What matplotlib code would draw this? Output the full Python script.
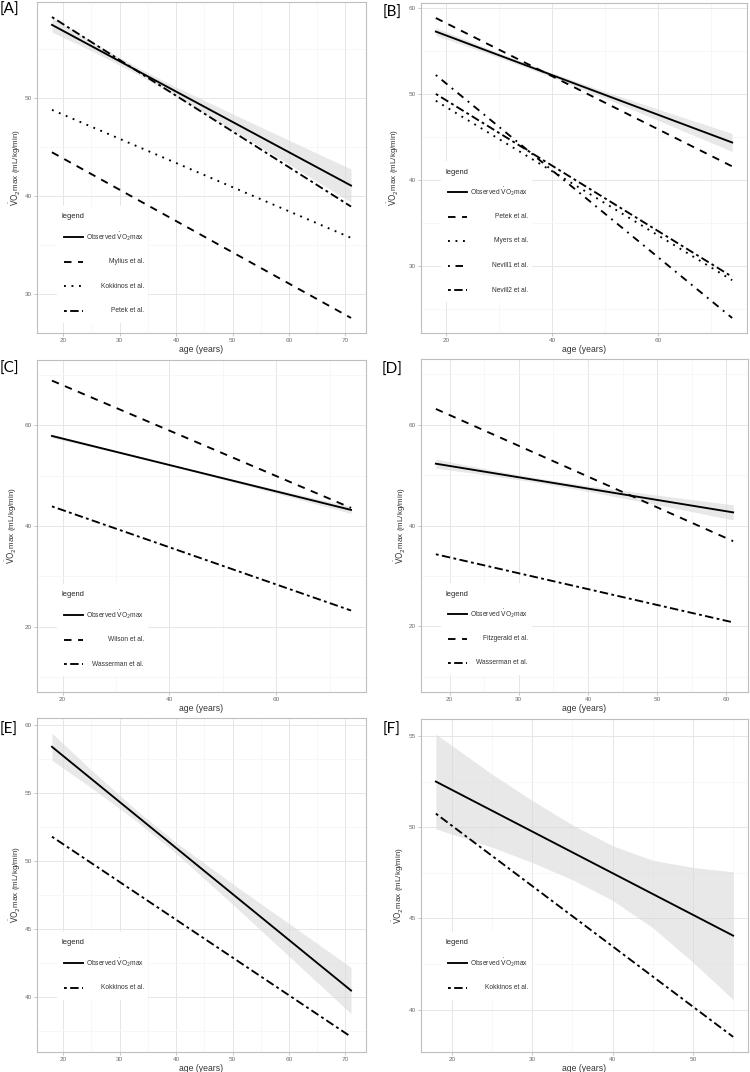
import matplotlib
matplotlib.use('Agg')
import matplotlib.pyplot as plt
import matplotlib.transforms as mtransforms
from matplotlib.lines import Line2D
from matplotlib.patches import Rectangle

plt.rcParams['font.family'] = ['Liberation Sans', 'DejaVu Sans']
plt.rcParams['mathtext.fontset'] = 'dejavusans'

VO2 = r'$\dot{\mathrm{V}}\mathrm{O}_2$max'
OBS_LABEL = 'Observed ' + VO2
YLABEL = VO2 + ' (mL/kg/min)'
XLABEL = 'age (years)'

# ---------------- Panel A ----------------
a_age = [18, 71]
a_observed = [57.5, 41.05]
a_mylius = [44.46, 27.5]
a_kokkinos = [48.8, 35.7]
a_petek = [58.3, 38.9]
a_ci_age = [18, 25, 33, 40, 50, 60, 71]
a_ci_lo = [56.76, 54.84, 52.49, 50.21, 46.75, 43.23, 39.36]
a_ci_hi = [58.24, 55.82, 53.19, 51.13, 48.39, 45.69, 42.74]
a_xticks = [20, 30, 40, 50, 60, 70]
a_yticks = [30, 40, 50]

# ---------------- Panel B ----------------
b_age = [18, 74]
b_observed = [57.26, 44.34]
b_petek = [58.84, 41.56]
b_myers = [49.2, 28.3]
b_nevill1 = [52.2, 23.9]
b_nevill2 = [50.0, 28.7]
b_ci_age = [18, 30, 40, 50, 60, 74]
b_ci_lo = [56.81, 54.21, 51.93, 49.48, 46.92, 43.29]
b_ci_hi = [57.71, 54.77, 52.43, 50.28, 48.22, 45.39]
b_xticks = [20, 40, 60]
b_yticks = [30, 40, 50, 60]

# ---------------- Panel C ----------------
c_age = [18, 74]
c_observed = [57.9, 43.2]
c_wilson = [68.9, 43.6]
c_wasserman = [43.9, 23.2]
c_ci_age = [18, 30, 40, 50, 60, 74]
c_ci_lo = [57.55, 54.55, 51.98, 49.25, 46.48, 42.5]
c_ci_hi = [58.25, 54.95, 52.28, 49.75, 47.28, 43.9]
c_xticks = [20, 40, 60]
c_yticks = [20, 40, 60]
c_ylim = [10, 70]

# ---------------- Panel D ----------------
d_age = [18, 61]
d_observed = [52.25, 42.6]
d_fitzgerald = [63.1, 36.9]
d_wasserman = [34.3, 20.8]
d_ci_age = [18, 25, 32, 40, 50, 61]
d_ci_lo = [51.35, 50.08, 48.66, 46.76, 44.12, 41.1]
d_ci_hi = [53.15, 51.28, 49.56, 47.86, 46.02, 44.1]
d_xticks = [20, 30, 40, 50, 60]
d_yticks = [20, 40, 60]
d_ylim = [10, 70]

# ---------------- Panel E ----------------
e_age = [18, 71]
e_observed = [58.4, 40.5]
e_kokkinos = [51.8, 37.1]
e_ci_age = [18, 25, 33, 40, 50, 60, 71]
e_ci_lo = [57.4, 55.39, 52.93, 50.57, 46.84, 43.02, 38.8]
e_ci_hi = [59.4, 56.69, 53.73, 51.37, 48.34, 45.42, 42.2]
e_xticks = [20, 30, 40, 50, 60, 70]
e_yticks = [40, 45, 50, 55, 60]

# ---------------- Panel F ----------------
f_age = [18, 55]
f_observed = [52.5, 44.05]
f_kokkinos = [50.74, 38.5]
f_ci_age = [18, 25, 30, 35, 40, 45, 50, 55]
f_ci_lo = [49.9, 48.9, 48.06, 47.12, 45.98, 44.48, 42.59, 40.55]
f_ci_hi = [55.1, 52.9, 51.46, 50.12, 48.98, 48.18, 47.79, 47.55]
f_xticks = [20, 30, 40, 50]
f_yticks = [40, 45, 50, 55]

panel_labels = ['[A]', '[B]', '[C]', '[D]', '[E]', '[F]']

panels = [
    dict(age=a_age, ci=(a_ci_age, a_ci_lo, a_ci_hi), xt=a_xticks, yt=a_yticks, ylim=None,
         series=[(OBS_LABEL, a_observed, 'solid'), ('Mylius et al.', a_mylius, 'dashed'),
                 ('Kokkinos et al.', a_kokkinos, 'dotted'), ('Petek et al.', a_petek, 'twodash')]),
    dict(age=b_age, ci=(b_ci_age, b_ci_lo, b_ci_hi), xt=b_xticks, yt=b_yticks, ylim=None,
         series=[(OBS_LABEL, b_observed, 'solid'), ('Petek et al.', b_petek, 'dashed'),
                 ('Myers et al.', b_myers, 'dotted'), ('Nevill1 et al.', b_nevill1, 'dotdash'),
                 ('Nevill2 et al.', b_nevill2, 'twodash')]),
    dict(age=c_age, ci=(c_ci_age, c_ci_lo, c_ci_hi), xt=c_xticks, yt=c_yticks, ylim=c_ylim,
         series=[(OBS_LABEL, c_observed, 'solid'), ('Wilson et al.', c_wilson, 'dashed'),
                 ('Wasserman et al.', c_wasserman, 'twodash')]),
    dict(age=d_age, ci=(d_ci_age, d_ci_lo, d_ci_hi), xt=d_xticks, yt=d_yticks, ylim=d_ylim,
         series=[(OBS_LABEL, d_observed, 'solid'), ('Fitzgerald et al.', d_fitzgerald, 'dashed'),
                 ('Wasserman et al.', d_wasserman, 'twodash')]),
    dict(age=e_age, ci=(e_ci_age, e_ci_lo, e_ci_hi), xt=e_xticks, yt=e_yticks, ylim=None,
         series=[(OBS_LABEL, e_observed, 'solid'), ('Kokkinos et al.', e_kokkinos, 'twodash')]),
    dict(age=f_age, ci=(f_ci_age, f_ci_lo, f_ci_hi), xt=f_xticks, yt=f_yticks, ylim=None,
         series=[(OBS_LABEL, f_observed, 'solid'), ('Kokkinos et al.', f_kokkinos, 'twodash')]),
]

# layout (pixels): left, top, right, bottom of each plotting panel
W, H = 750, 1072
boxes = [(37, 2, 366, 333), (421, 3, 747, 333), (37, 360, 366, 692),
         (421, 359, 748, 692), (37, 718, 366, 1052), (421, 719, 748, 1052)]
legend_title_y = [116, 161, 97, 98, 109, 109]
ylabelpads = [1.5, 6, 4, 1, 1.5, 2]
tag_pos = [(0, 3), (383, 6), (0, 362), (382, 363), (0, 723), (383, 723)]

DASHES = {'solid': None, 'dashed': (4, 3.5), 'dotted': (1, 3),
          'dotdash': (1, 3, 4, 3), 'twodash': (1.5, 1.8, 4.5, 1.8)}
LW = 1.35
GRID_MAJ = '#E6E6E6'
GRID_MIN = '#F3F3F3'
BORDER = '#BEBEBE'
TICKTXT = '#6E6E6E'


def style_line(line, kind):
    d = DASHES[kind]
    if d is not None:
        line.set_dashes(d)
        line.set_dash_capstyle('butt')


def expand(lo, hi, f=0.05):
    r = hi - lo
    return lo - f * r, hi + f * r


def minors(ticks):
    step = ticks[1] - ticks[0]
    return [ticks[0] - step / 2] + [t + step / 2 for t in ticks]


fig = plt.figure(figsize=(W / 100, H / 100), dpi=100)

for i, p in enumerate(panels):
    l, t, r, b = boxes[i]
    ax = fig.add_axes([l / W, 1 - b / H, (r - l) / W, (b - t) / H])
    ci_age, ci_lo, ci_hi = p['ci']
    ax.fill_between(ci_age, ci_lo, ci_hi, color='#D9D9D9', alpha=0.6, lw=0, zorder=2)
    allv = list(ci_lo) + list(ci_hi)
    for name, vals, kind in p['series']:
        ln, = ax.plot(p['age'], vals, color='black', lw=LW, zorder=3)
        style_line(ln, kind)
        allv += list(vals)
    xl = expand(min(p['age']), max(p['age']))
    if p['ylim'] is None:
        yl = expand(min(allv), max(allv))
    else:
        yl = expand(*p['ylim'])
    ax.set_xlim(xl)
    ax.set_ylim(yl)
    ax.set_xticks(p['xt'])
    ax.set_yticks(p['yt'])
    ax.set_xticks([m for m in minors(p['xt']) if xl[0] < m < xl[1]], minor=True)
    ax.set_yticks([m for m in minors(p['yt']) if yl[0] < m < yl[1]], minor=True)
    ax.grid(which='major', color=GRID_MAJ, lw=0.7, zorder=0)
    ax.grid(which='minor', color=GRID_MIN, lw=0.45, zorder=0)
    ax.set_axisbelow(True)
    ax.tick_params(which='major', length=2.2, width=0.6, color=BORDER, labelsize=4.6,
                   labelcolor=TICKTXT, pad=1.2)
    ax.tick_params(which='minor', length=0)
    for s in ax.spines.values():
        s.set_color(BORDER)
        s.set_linewidth(0.8)
    ax.set_xlabel(XLABEL, fontsize=6.2, color='#333333', labelpad=1.8)
    ax.set_ylabel(YLABEL, fontsize=5.8, color='#333333', labelpad=ylabelpads[i])

    # ggplot-style legend inside panel (right-aligned labels)
    trans = mtransforms.Affine2D().scale(fig.dpi / 100) + \
        mtransforms.ScaledTranslation(0, 0, ax.transAxes)
    ty = legend_title_y[i]
    n = len(p['series'])
    rows = [ty - 20 - 24.5 * k for k in range(n)]
    box_top = ty + 11
    box_bot = rows[-1] - 12
    ax.add_artist(Rectangle((20, box_bot), 91, box_top - box_bot, transform=trans,
                            facecolor='white', edgecolor='none', zorder=8, clip_on=False))
    ax.text(25, ty, 'legend', transform=trans, ha='left', va='center', fontsize=5.4,
            color='#222222', zorder=9)
    for (name, vals, kind), yy in zip(p['series'], rows):
        h = Line2D([27, 46], [yy, yy], transform=trans, color='black', lw=LW, zorder=9)
        style_line(h, kind)
        ax.add_artist(h)
        ax.text(107, yy, name, transform=trans, ha='right', va='center', fontsize=4.8,
                color='#333333', zorder=9)

for tag, (x, y) in zip(panel_labels, tag_pos):
    fig.text(x / W, 1 - y / H, tag, ha='left', va='top', fontsize=11,
             family=['Lato', 'DejaVu Sans'], color='black')

fig.savefig('out.png', dpi=100)
